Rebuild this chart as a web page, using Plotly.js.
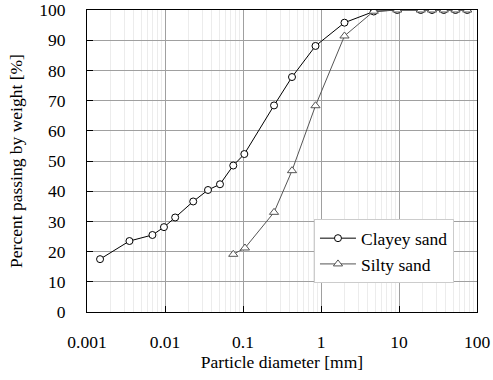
<!DOCTYPE html>
<html>
<head>
<meta charset="utf-8">
<script src="https://cdn.plot.ly/plotly-3.0.1.min.js"></script>
<style>
  html, body { margin: 0; padding: 0; background: #fff; }
  #chart { width: 493px; height: 380px; }
</style>
</head>
<body>
<div id="chart"></div>
<script>
// Grain size distribution: sieve + hydrometer results
const clayeyDiameter = [0.00147, 0.0035, 0.0069, 0.0097, 0.0135, 0.023, 0.0356, 0.0507, 0.075, 0.104,
                        0.25, 0.425, 0.85, 2.0, 4.75, 9.5, 19, 26.5, 37.5, 53, 75];
const clayeyPassing  = [17.5, 23.5, 25.5, 28.1, 31.3, 36.6, 40.4, 42.3, 48.5, 52.3,
                        68.4, 77.8, 88.1, 95.8, 99.5, 100, 100, 100, 100, 100, 100];

const siltyDiameter = [0.075, 0.106, 0.25, 0.425, 0.85, 2.0, 4.75, 9.5, 19, 26.5, 37.5, 53, 75];
const siltyPassing  = [19.1, 21.2, 33.0, 46.8, 68.3, 91.4, 99.6, 100, 100, 100, 100, 100, 100];

const xTickVals = [0.001, 0.01, 0.1, 1, 10, 100];
const xTickText = ['0.001', '0.01', '0.1', '1', '10', '100'];

// minor gridlines at 2..9 within each decade
const minorVals = [];
for (let e = -3; e < 2; e++) {
  for (let m = 2; m <= 9; m++) minorVals.push(m * Math.pow(10, e));
}

const serif = 'Liberation Serif';
const txt = { family: serif, size: 17.5, color: '#000000' };

const traces = [
  {
    name: 'Clayey sand',
    x: clayeyDiameter, y: clayeyPassing,
    type: 'scatter', mode: 'lines+markers',
    line: { color: '#000000', width: 1 },
    marker: { symbol: 'circle', size: 7, color: '#ffffff', line: { color: '#000000', width: 1 } }
  },
  {
    name: 'Silty sand',
    x: siltyDiameter, y: siltyPassing,
    type: 'scatter', mode: 'lines+markers',
    line: { color: '#555555', width: 1 },
    marker: { symbol: 'triangle-up', size: 8, color: '#ffffff', line: { color: '#555555', width: 1 } }
  }
];

const layout = {
  width: 493, height: 380,
  margin: { l: 87, r: 16, t: 10, b: 68 },
  paper_bgcolor: '#ffffff', plot_bgcolor: '#ffffff',
  font: txt,
  showlegend: true,
  legend: {
    x: 0.582, y: 0.307, xanchor: 'left', yanchor: 'top',
    bgcolor: '#ffffff', bordercolor: '#cccccc', borderwidth: 1,
    font: txt,
    itemwidth: 36, tracegroupgap: 4
  },
  xaxis: {
    type: 'log', range: [-3, 2],
    tickmode: 'array', tickvals: xTickVals, ticktext: xTickText,
    tickfont: txt,
    ticks: 'inside', ticklen: 6, tickcolor: '#000000',
    showline: true, linecolor: '#000000', linewidth: 1, mirror: true,
    showgrid: true, gridcolor: '#a0a0a0', gridwidth: 1,
    minor: { tickmode: 'array', tickvals: minorVals, showgrid: true, gridcolor: '#ececec', gridwidth: 1, ticks: '' },
    zeroline: false,
    ticklabelstandoff: 14,
    title: { text: 'Particle diameter [mm]', font: txt, standoff: 1 },
    automargin: false
  },
  yaxis: {
    range: [0, 100], dtick: 10, tick0: 0,
    tickfont: txt,
    ticks: 'inside', ticklen: 6, tickcolor: '#000000',
    showline: true, linecolor: '#000000', linewidth: 1, mirror: true,
    showgrid: true, gridcolor: '#a0a0a0', gridwidth: 1,
    zeroline: false,
    ticklabelstandoff: 17,
    title: { text: 'Percent passing by weight [%]', font: txt, standoff: 12 },
    automargin: false
  }
};

Plotly.newPlot('chart', traces, layout, { displayModeBar: false, staticPlot: true });
</script>
</body>
</html>
